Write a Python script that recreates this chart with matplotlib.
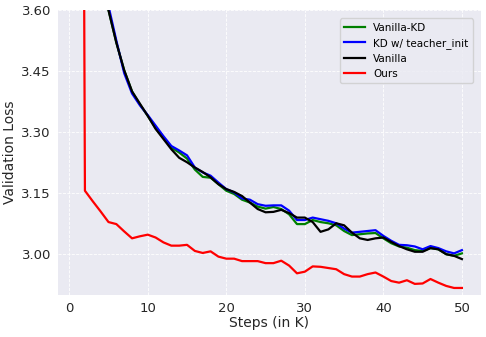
import numpy as np
import matplotlib
matplotlib.use("Agg")
import matplotlib.pyplot as plt

# steps in K
steps = np.arange(1, 51)

# values (step 1-4 of the baselines and step 1 of ours are above the view)
vanilla_kd = [4.60, 4.20, 3.95, 3.78, 3.600, 3.520, 3.452, 3.400, 3.368, 3.340,
              3.310, 3.286, 3.262, 3.250, 3.235, 3.208, 3.190, 3.188, 3.172, 3.156,
              3.148, 3.134, 3.127, 3.117, 3.112, 3.116, 3.111, 3.098, 3.074, 3.074,
              3.084, 3.079, 3.076, 3.071, 3.057, 3.047, 3.049, 3.051, 3.052, 3.039,
              3.027, 3.019, 3.016, 3.010, 3.008, 3.015, 3.012, 3.000, 2.996, 3.002]
kd_teacher_init = [4.60, 4.20, 3.95, 3.79, 3.610, 3.525, 3.445, 3.395, 3.366, 3.342,
                   3.316, 3.290, 3.266, 3.255, 3.243, 3.213, 3.201, 3.193, 3.176, 3.160,
                   3.152, 3.137, 3.134, 3.123, 3.119, 3.120, 3.120, 3.107, 3.084, 3.084,
                   3.090, 3.086, 3.082, 3.076, 3.063, 3.053, 3.055, 3.057, 3.059, 3.045,
                   3.033, 3.023, 3.022, 3.019, 3.012, 3.020, 3.015, 3.007, 3.002, 3.010]
vanilla = [4.60, 4.20, 3.95, 3.78, 3.600, 3.520, 3.452, 3.400, 3.370, 3.340,
           3.308, 3.283, 3.258, 3.237, 3.226, 3.213, 3.202, 3.189, 3.172, 3.160,
           3.153, 3.143, 3.127, 3.111, 3.103, 3.104, 3.109, 3.101, 3.090, 3.090,
           3.079, 3.055, 3.061, 3.076, 3.071, 3.053, 3.039, 3.035, 3.039, 3.041,
           3.030, 3.020, 3.012, 3.006, 3.006, 3.015, 3.012, 3.000, 2.996, 2.988]
ours = [8.00, 3.156, 3.130, 3.105, 3.079, 3.074, 3.056, 3.039, 3.044, 3.048,
        3.041, 3.029, 3.021, 3.021, 3.023, 3.008, 3.003, 3.007, 2.994, 2.989,
        2.989, 2.983, 2.983, 2.983, 2.978, 2.978, 2.984, 2.972, 2.953, 2.957,
        2.970, 2.969, 2.966, 2.963, 2.951, 2.945, 2.945, 2.951, 2.955, 2.945,
        2.934, 2.930, 2.936, 2.927, 2.928, 2.939, 2.930, 2.922, 2.917, 2.917]

plt.rcParams["font.family"] = "DejaVu Sans"
fig = plt.figure(figsize=(4.86, 3.37), dpi=100)
ax = fig.add_axes([0.119, 0.125, 0.871, 0.845])
ax.set_facecolor("#EAEAF2")
for s in ax.spines.values():
    s.set_visible(False)
ax.grid(True, color="white", linestyle="--", linewidth=0.6)
ax.set_axisbelow(True)
ax.tick_params(length=0, labelsize=9.5, colors="#262626", pad=5)

lw = 1.6
ax.plot(steps, vanilla_kd, color="green", lw=lw, label="Vanilla-KD")
ax.plot(steps, kd_teacher_init, color="blue", lw=lw, label="KD w/ teacher_init")
ax.plot(steps, vanilla, color="black", lw=lw, label="Vanilla")
ax.plot(steps, ours, color="red", lw=lw, label="Ours")

ax.set_ylim(2.90, 3.60)
ax.set_yticks([3.00, 3.15, 3.30, 3.45, 3.60])
ax.set_yticklabels(["3.00", "3.15", "3.30", "3.45", "3.60"])
ax.set_xticks([0, 10, 20, 30, 40, 50])
ax.set_xlabel("Steps (in K)", fontsize=10, color="#262626", labelpad=1)
ax.set_ylabel("Validation Loss", fontsize=10, color="#262626", labelpad=3)

leg = ax.legend(loc="upper right", fontsize=7.5, facecolor="#EAEAF2",
                edgecolor="#CCCCCC", framealpha=0.8, borderaxespad=0.8,
                handlelength=2.0)

fig.savefig("out.png", dpi=100)
